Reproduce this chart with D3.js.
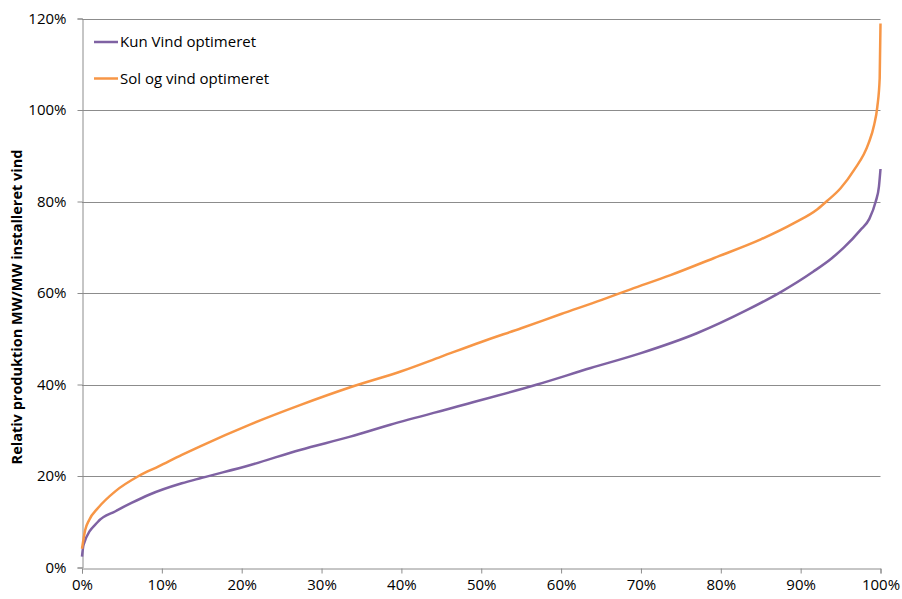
<!DOCTYPE html>
<html>
<head>
<meta charset="utf-8">
<script src="https://cdn.jsdelivr.net/npm/d3@7"></script>
<style>
  html, body { margin: 0; padding: 0; background: #fff; }
  svg { display: block; font-family: "Open Sans", Lato, sans-serif; }
</style>
</head>
<body>
<svg id="chart" width="902" height="599"></svg>
<script>
// Duration curves: share of hours (x, %) vs relative production MW/MW installed wind (y, %)
const windOnlyX = [0, 0.2, 2, 4.2, 6.2, 8.4, 12.5, 15, 21.1, 27.3, 33.6, 38.6, 47, 57, 63.7, 69.9, 77, 83.3, 87.5, 91.6, 93.9, 95.4, 97.5, 98.6, 99.4, 99.8, 100];
const windOnlyY = [2.4, 5, 10, 12.3, 14.1, 15.9, 18.4, 19.6, 22.4, 25.7, 28.6, 31.2, 35.2, 40, 43.6, 46.8, 51.2, 56.3, 60.2, 64.7, 67.6, 69.9, 73.8, 76.2, 80, 83.2, 87.1];

const solarWindX = [0, 0.4, 0.9, 2, 4.2, 7.1, 9.6, 12.5, 14.8, 21.1, 27.3, 33.6, 40, 45, 50, 55, 60, 65.1, 68.7, 73.7, 79.1, 85, 89.1, 92.1, 93.3, 95, 96.7, 98.5, 99.2, 99.6, 99.9, 100];
const solarWindY = [4.1, 8.2, 10.4, 13, 16.7, 20, 22.1, 24.6, 26.5, 31.3, 35.5, 39.4, 42.9, 46.1, 49.3, 52.3, 55.4, 58.5, 60.8, 63.9, 67.6, 71.7, 75.2, 78.3, 80.1, 82.9, 86.9, 92.7, 96.7, 100.7, 107, 118.9];

const seriesNames = ["Kun Vind optimeret", "Sol og vind optimeret"];
const seriesColors = ["#7F62A3", "#F79646"];
const xTickValues = [0, 10, 20, 30, 40, 50, 60, 70, 80, 90, 100];
const yTickValues = [0, 20, 40, 60, 80, 100, 120];
const yTitle = "Relativ produktion MW/MW installeret vind";

const svg = d3.select("#chart");
const plot = { left: 82, right: 880.5, top: 18.5, bottom: 567.5 };

const x = d3.scaleLinear().domain([0, 100]).range([plot.left, plot.right]);
const y = d3.scaleLinear().domain([0, 120]).range([plot.bottom, plot.top]);

const gridColor = "#8C8C8C";

// horizontal gridlines
svg.append("g")
  .selectAll("line")
  .data(yTickValues.filter(v => v > 0))
  .join("line")
  .attr("x1", plot.left).attr("x2", plot.right)
  .attr("y1", d => Math.round(y(d)) + 0.5).attr("y2", d => Math.round(y(d)) + 0.5)
  .attr("stroke", gridColor).attr("stroke-width", 1);

// y axis
const yAxis = svg.append("g")
  .attr("transform", `translate(${plot.left + 0.5},0)`)
  .call(d3.axisLeft(y).tickValues(yTickValues).tickSize(5).tickPadding(11).tickFormat(d => d + "%"));

// x axis
const xAxis = svg.append("g")
  .attr("transform", `translate(0,${Math.round(plot.bottom) + 0.5})`)
  .call(d3.axisBottom(x).tickValues(xTickValues).tickSize(5).tickPadding(6).tickFormat(d => d + "%"));

[yAxis, xAxis].forEach(g => {
  g.select(".domain").attr("stroke", gridColor);
  g.selectAll(".tick line").attr("stroke", gridColor);
  g.selectAll(".tick text")
    .attr("fill", "#000")
    .style("font-size", "15px")
    .style("font-family", "'Open Sans', Lato, sans-serif");
});

// y axis title
svg.append("text")
  .attr("transform", `translate(22,307) rotate(-90)`)
  .attr("text-anchor", "middle")
  .style("font-size", "14.5px")
  .style("font-weight", "bold")
  .text(yTitle);

// series lines
const line = d3.line()
  .x(d => x(d[0]))
  .y(d => y(d[1]))
  .curve(d3.curveMonotoneX);

const series = [
  d3.zip(windOnlyX, windOnlyY),
  d3.zip(solarWindX, solarWindY)
];

svg.append("g")
  .selectAll("path")
  .data(series)
  .join("path")
  .attr("d", line)
  .attr("fill", "none")
  .attr("stroke", (d, i) => seriesColors[i])
  .attr("stroke-width", 2.5)
  .attr("stroke-linejoin", "round");

// legend
const legend = svg.append("g").attr("transform", "translate(94,42)");
const items = legend.selectAll("g")
  .data(seriesNames)
  .join("g")
  .attr("transform", (d, i) => `translate(0,${i * 36.5})`);
items.append("line")
  .attr("x1", 0).attr("x2", 24)
  .attr("stroke", (d, i) => seriesColors[i])
  .attr("stroke-width", 2.5);
items.append("text")
  .attr("x", 26)
  .attr("dy", "0.35em")
  .style("font-size", "15px")
  .text(d => d);
</script>
</body>
</html>
